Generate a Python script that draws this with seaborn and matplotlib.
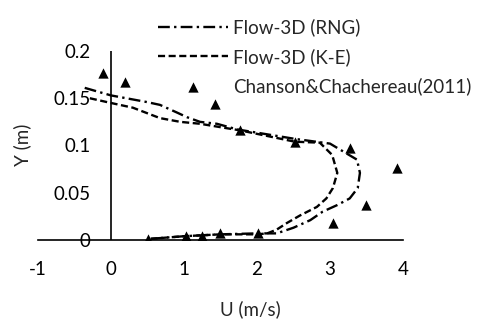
import numpy as np
import pandas as pd
import matplotlib
matplotlib.use("Agg")
import matplotlib.pyplot as plt
import seaborn as sns

# Flow-3D velocity profile, RNG turbulence model
rng_u = [-0.36, 0.00, 0.49, 0.67, 0.90, 1.04, 1.22, 1.45, 1.73, 2.52, 3.00, 3.37, 3.41, 3.38,
         3.27, 3.10, 2.90, 2.73, 2.50, 2.27, 2.00, 1.50, 1.00, 0.50]
rng_y = [0.161, 0.153, 0.146, 0.143, 0.135, 0.130, 0.125, 0.123, 0.117, 0.107, 0.102, 0.085, 0.071, 0.055,
         0.044, 0.037, 0.030, 0.021, 0.013, 0.007, 0.007, 0.006, 0.004, 0.001]

# Flow-3D velocity profile, k-epsilon turbulence model
ke_u = [-0.29, 0.00, 0.30, 0.67, 0.95, 1.22, 1.53, 1.77, 2.52, 2.86, 3.03, 3.10, 3.04, 2.95,
        2.82, 2.59, 2.41, 2.27, 2.14, 2.00, 1.50, 1.00, 0.50]
ke_y = [0.150, 0.145, 0.140, 0.129, 0.125, 0.123, 0.119, 0.116, 0.104, 0.103, 0.090, 0.071, 0.055, 0.044,
        0.035, 0.026, 0.018, 0.011, 0.007, 0.006, 0.006, 0.004, 0.001]

# Measurements, Chanson & Chachereau (2011)
exp_u = [0.50, 1.03, 1.24, 1.49, 2.01, 3.04, 3.49, 3.92, 3.27, 2.52, 1.77, 1.42, 0.19, -0.11]
exp_y = [0.001, 0.004, 0.004, 0.007, 0.007, 0.018, 0.037, 0.076, 0.097, 0.104, 0.116, 0.144, 0.167, 0.177]

x_ticks = [-1, 0, 1, 2, 3, 4]
y_ticks = [0, 0.05, 0.1, 0.15, 0.2]
y_tick_labels = ["0", "0.05", "0.1", "0.15", "0.2"]

sns.set_style("white")
plt.rcParams["font.family"] = ["Lato", "DejaVu Sans"]
FS = 13.5

W, H = 484, 320
fig = plt.figure(figsize=(W / 100, H / 100), dpi=100)
ax = fig.add_axes([38 / W, 1 - 240 / H, (403 - 38) / W, (240 - 51) / H])

rng_df = pd.DataFrame({"U": rng_u, "Y": rng_y})
ke_df = pd.DataFrame({"U": ke_u, "Y": ke_y})
exp_df = pd.DataFrame({"U": exp_u, "Y": exp_y})

sns.lineplot(data=rng_df, x="U", y="Y", sort=False, estimator=None, ax=ax,
             color="black", lw=1.7, linestyle=(0, (5, 1.8, 1, 1.8)), label="Flow-3D (RNG)")
sns.lineplot(data=ke_df, x="U", y="Y", sort=False, estimator=None, ax=ax,
             color="black", lw=1.7, linestyle=(0, (3, 1.5)), label="Flow-3D (K-E)")
sns.scatterplot(data=exp_df, x="U", y="Y", ax=ax, marker="^", s=55, color="black",
                edgecolor="black", linewidth=0, label="Chanson&Chachereau(2011)", zorder=3)

ax.set_xlim(-1, 4)
ax.set_ylim(0, 0.2)
ax.set_xticks(x_ticks)
ax.set_xticklabels([str(t) for t in x_ticks])
ax.set_yticks(y_ticks)
ax.set_yticklabels(y_tick_labels)

for side in ["top", "right", "left"]:
    ax.spines[side].set_visible(False)
ax.spines["bottom"].set_color("black")
ax.spines["bottom"].set_linewidth(1.2)
ax.axvline(0, color="black", lw=1.2, zorder=1)

ax.tick_params(axis="x", length=0, pad=15, labelsize=FS, colors="black")
ax.tick_params(axis="y", length=0, pad=-38, labelsize=FS, colors="black")
ax.patch.set_alpha(0)

ax.set_xlabel("U (m/s)", fontsize=FS)
ax.set_ylabel("Y (m)", fontsize=FS)
ax.xaxis.set_label_coords((250 - 38) / (403 - 38), -(300 - 240) / (240 - 51))
ax.yaxis.set_label_coords(-(38 - 31) / (403 - 38), (240 - 145) / (240 - 51))

handles, labels = ax.get_legend_handles_labels()
ax.legend(handles, labels, loc="upper left", bbox_to_anchor=(149 / W, 1 - 9 / H),
          bbox_transform=fig.transFigure, frameon=False, fontsize=FS,
          handlelength=3.7, handletextpad=0.3, labelspacing=0.62, borderpad=0,
          scatterpoints=1)

fig.savefig("out.png", dpi=100)
